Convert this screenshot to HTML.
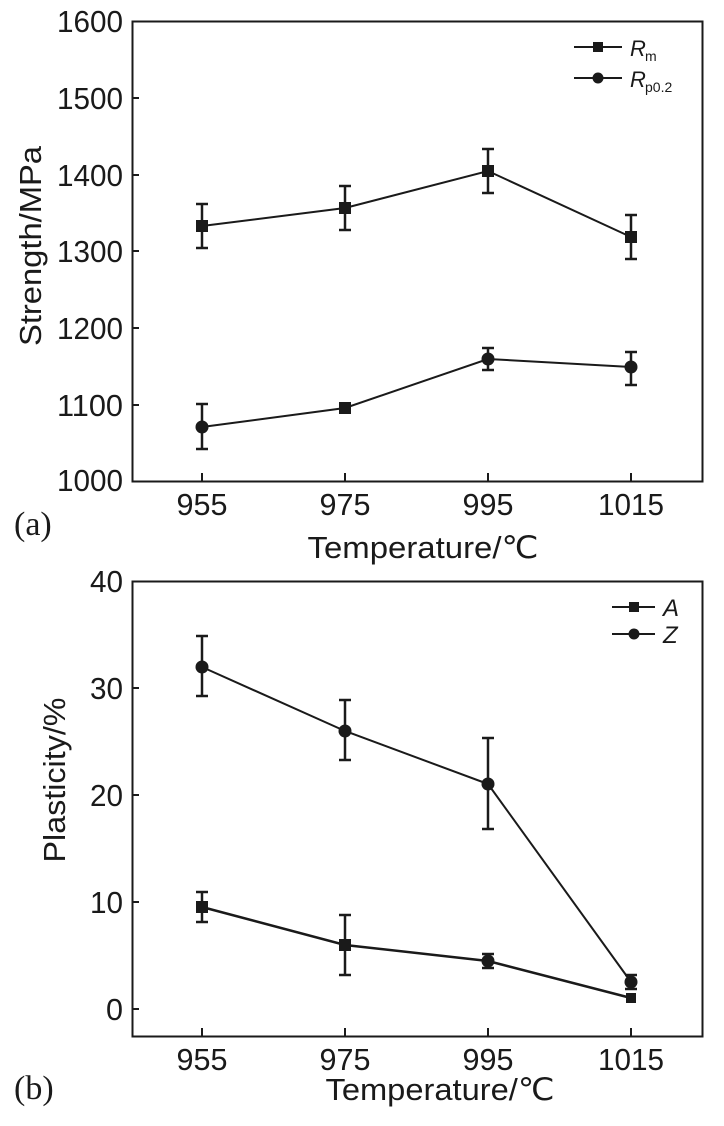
<!DOCTYPE html>
<html><head><meta charset="utf-8"><style>
html,body{margin:0;padding:0;background:#fff;}
svg{display:block;}
text{font-family:"Liberation Sans",sans-serif;fill:#1a1a1a;}
.t{font-size:31px;}
.s{font-family:"Liberation Serif",serif;font-size:34px;}
</style></head><body>
<svg width="724" height="1126" viewBox="0 0 724 1126" xmlns="http://www.w3.org/2000/svg">
<g stroke="#1a1a1a" fill="none" stroke-width="2">
<rect x="132.5" y="21.5" width="570" height="460"/>
<path d="M202 481v-8M345 481v-8M488 481v-8M631 481v-8"/>
<path d="M132 98h7M132 175h7M132 251h7M132 328h7M132 405h7"/>
<rect x="132.5" y="581.5" width="570" height="455"/>
<path d="M202 1036v-8M345 1036v-8M488 1036v-8M631 1036v-8"/>
<path d="M132 688h7M132 795h7M132 902h7M132 1009h7"/>
</g>
<g stroke="#1a1a1a" fill="none" stroke-width="2">
<polyline points="202,226 345,208 488,171 631,237"/>
<path d="M202 204v44M196 204h12M196 248h12 M345 186v44M339 186h12M339 230h12 M488 149v44M482 149h12M482 193h12 M631 215v44M625 215h12M625 259h12" stroke-width="2.5"/>
<polyline points="202,427 345,408 488,359 631,367"/>
<path d="M202 404v45M196 404h12M196 449h12 M345 405v6 M488 348v22M482 348h12M482 370h12 M631 352v33M625 352h12M625 385h12" stroke-width="2.5"/>
<polyline points="202,667 345,731 488,784 631,982"/>
<path d="M202 636v60M196 636h12M196 696h12 M345 700v60M339 700h12M339 760h12 M488 738v91M482 738h12M482 829h12 M631 975v14M625 975h12M625 989h12" stroke-width="2.5"/>
<polyline points="202,907 345,945 488,961 631,998" stroke-width="2.5"/>
<path d="M202 892v30M196 892h12M196 922h12 M345 975v-60M339 975h12M339 915h12 M488 954v14M482 954h12M482 968h12 M631 996v4" stroke-width="2.5"/>
<path d="M574 47h48M574 78h48M612 607h43M612 634h43"/>
</g>
<g fill="#1a1a1a">
<rect x="196" y="220" width="12" height="12"/><rect x="339" y="202" width="12" height="12"/><rect x="482" y="165" width="12" height="12"/><rect x="625" y="231" width="12" height="12"/>
<circle cx="202" cy="427" r="6.5"/><rect x="339" y="402" width="12" height="12"/><circle cx="488" cy="359" r="6.5"/><circle cx="631" cy="367" r="6.5"/>
<circle cx="202" cy="667" r="6.5"/><circle cx="345" cy="731" r="6.5"/><circle cx="488" cy="784" r="6.5"/><circle cx="631" cy="982" r="6.5"/>
<rect x="196" y="901" width="12" height="12"/><rect x="339" y="939" width="12" height="12"/><circle cx="488" cy="961" r="6.5"/><rect x="626" y="993" width="10" height="10"/>
<rect x="593" y="42" width="10" height="10"/><circle cx="598" cy="78" r="5.5"/>
<rect x="629" y="602" width="10" height="10"/><circle cx="634" cy="634" r="5.5"/>
</g>
<text x="630" y="56" font-size="22" font-style="italic">R</text><text x="645" y="61" font-size="14">m</text>
<text x="630" y="87" font-size="22" font-style="italic">R</text><text x="645" y="92" font-size="14">p0.2</text>
<text x="663" y="616" font-size="24" font-style="italic">A</text>
<text x="663" y="643" font-size="24" font-style="italic">Z</text>
<g class="t" text-anchor="end">
<text x="123" y="32" textLength="66" lengthAdjust="spacingAndGlyphs">1600</text>
<text x="123" y="109" textLength="66" lengthAdjust="spacingAndGlyphs">1500</text>
<text x="123" y="186" textLength="66" lengthAdjust="spacingAndGlyphs">1400</text>
<text x="123" y="262" textLength="66" lengthAdjust="spacingAndGlyphs">1300</text>
<text x="123" y="339" textLength="66" lengthAdjust="spacingAndGlyphs">1200</text>
<text x="123" y="416" textLength="66" lengthAdjust="spacingAndGlyphs">1100</text>
<text x="123" y="491" textLength="66" lengthAdjust="spacingAndGlyphs">1000</text>
<text x="123" y="592" textLength="33" lengthAdjust="spacingAndGlyphs">40</text>
<text x="123" y="699" textLength="33" lengthAdjust="spacingAndGlyphs">30</text>
<text x="123" y="806" textLength="33" lengthAdjust="spacingAndGlyphs">20</text>
<text x="123" y="913" textLength="33" lengthAdjust="spacingAndGlyphs">10</text>
<text x="123" y="1020" textLength="17" lengthAdjust="spacingAndGlyphs">0</text>
</g>
<g class="t" text-anchor="middle">
<text x="202" y="515" textLength="51" lengthAdjust="spacingAndGlyphs">955</text>
<text x="345" y="515" textLength="51" lengthAdjust="spacingAndGlyphs">975</text>
<text x="488" y="515" textLength="51" lengthAdjust="spacingAndGlyphs">995</text>
<text x="631" y="515" textLength="66" lengthAdjust="spacingAndGlyphs">1015</text>
<text x="202" y="1070" textLength="51" lengthAdjust="spacingAndGlyphs">955</text>
<text x="345" y="1070" textLength="51" lengthAdjust="spacingAndGlyphs">975</text>
<text x="488" y="1070" textLength="51" lengthAdjust="spacingAndGlyphs">995</text>
<text x="631" y="1070" textLength="66" lengthAdjust="spacingAndGlyphs">1015</text>
<text x="423" y="558" textLength="231" lengthAdjust="spacingAndGlyphs">Temperature/℃</text>
<text x="440" y="1100" textLength="229" lengthAdjust="spacingAndGlyphs">Temperature/℃</text>
<text transform="translate(41,246) rotate(-90)" textLength="200" lengthAdjust="spacingAndGlyphs">Strength/MPa</text>
<text transform="translate(65,780) rotate(-90)" textLength="165" lengthAdjust="spacingAndGlyphs">Plasticity/%</text>
</g>
<text class="s" x="14" y="535">(a)</text>
<text class="s" x="14" y="1099">(b)</text>
</svg>
</body></html>
